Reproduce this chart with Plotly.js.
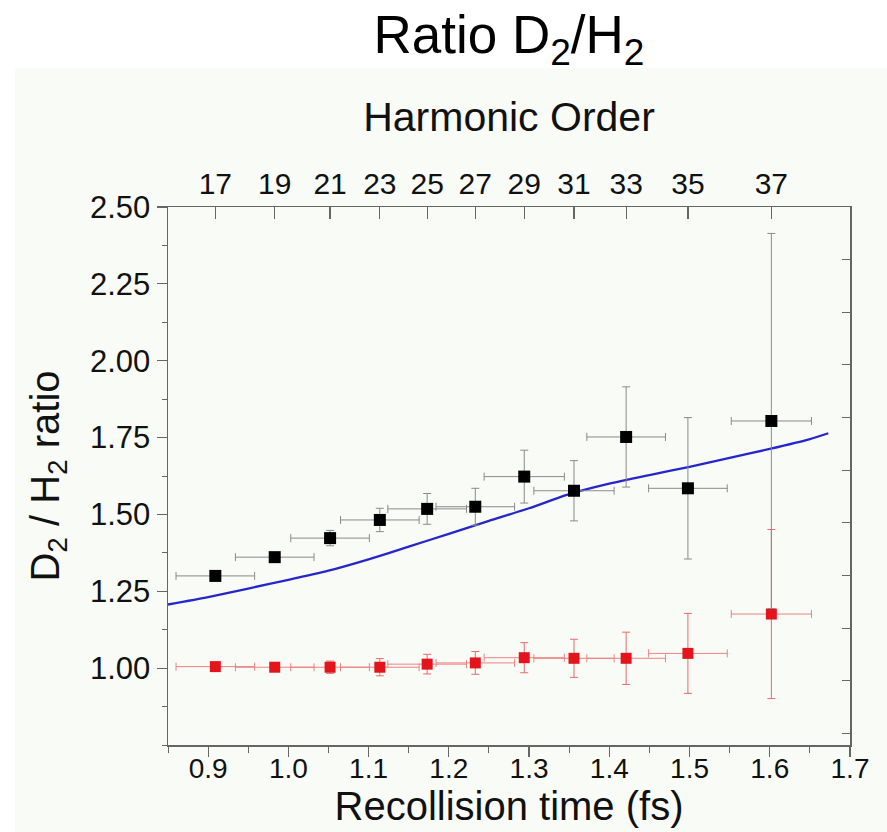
<!DOCTYPE html>
<html>
<head>
<meta charset="utf-8">
<script src="https://cdn.plot.ly/plotly-3.0.1.min.js"></script>
<style>html,body{margin:0;padding:0;background:#fff;}#chart{width:887px;height:832px;}</style>
</head>
<body>
<div id="chart"></div>
<script>
// Harmonic order (top axis) and corresponding recollision times (fs)
const harmonicOrders = [17, 19, 21, 23, 25, 27, 29, 31, 33, 35, 37];
const recollisionTime = [0.909, 0.983, 1.052, 1.114, 1.173, 1.233, 1.294, 1.356, 1.421, 1.498, 1.602];
const timeErr = [0.049, 0.049, 0.049, 0.049, 0.049, 0.049, 0.05, 0.05, 0.049, 0.049, 0.05];

// Measured D2/H2 ratio (black) with errors
const ratioBlack = [1.300, 1.361, 1.423, 1.482, 1.518, 1.525, 1.623, 1.577, 1.752, 1.585, 1.804];
const ratioBlackErr = [0.012, 0.015, 0.025, 0.038, 0.05, 0.06, 0.086, 0.098, 0.163, 0.23, 0.61];

// Reference ratio (red) with errors
const ratioRed = [1.005, 1.003, 1.003, 1.003, 1.013, 1.017, 1.034, 1.032, 1.032, 1.048, 1.176];
const ratioRedErr = [0.012, 0.012, 0.02, 0.028, 0.032, 0.037, 0.049, 0.062, 0.085, 0.13, 0.275];

// Theory curve (blue)
const theoryTime = [0.85, 0.90, 0.95, 1.00, 1.05, 1.10, 1.15, 1.20, 1.25, 1.30, 1.35, 1.40, 1.45, 1.50, 1.55, 1.60, 1.65, 1.673];
const theoryRatio = [1.207, 1.231, 1.259, 1.287, 1.317, 1.354, 1.395, 1.437, 1.479, 1.520, 1.566, 1.600, 1.628, 1.655, 1.684, 1.713, 1.745, 1.764];

// Left-axis labelled ticks
const yTickVals = [1.00, 1.25, 1.50, 1.75, 2.00, 2.25, 2.50];

const FONT = 'Liberation Sans, Arial, sans-serif';
const AXC = '#666666';

const traces = [
  {
    x: theoryTime, y: theoryRatio, type: 'scatter', mode: 'lines',
    line: {color: '#2626cc', width: 2.3, shape: 'spline', smoothing: 0.6}, hoverinfo: 'skip', showlegend: false
  },
  {
    x: recollisionTime, y: ratioRed, type: 'scatter', mode: 'markers',
    marker: {symbol: 'square', size: 11, color: '#e4141c'},
    error_x: {type: 'data', array: timeErr, visible: true, color: '#ee8080', thickness: 1, width: 4},
    error_y: {type: 'data', array: ratioRedErr, visible: true, color: '#e86a6a', thickness: 1, width: 4},
    showlegend: false
  },
  {
    x: recollisionTime, y: ratioBlack, type: 'scatter', mode: 'markers',
    marker: {symbol: 'square', size: 12, color: '#000000'},
    error_x: {type: 'data', array: timeErr, visible: true, color: '#8a8a8a', thickness: 1, width: 4},
    error_y: {type: 'data', array: ratioBlackErr, visible: true, color: '#8a8a8a', thickness: 1, width: 4},
    showlegend: false
  },
  {x: [0.85], y: [null], xaxis: 'x2', yaxis: 'y', type: 'scatter', mode: 'markers', showlegend: false, hoverinfo: 'skip'},
  {x: [0.85], y: [null], xaxis: 'x', yaxis: 'y2', type: 'scatter', mode: 'markers', showlegend: false, hoverinfo: 'skip'}
];

const layout = {
  width: 887, height: 832,
  margin: {l: 168, r: 37, t: 207, b: 87},
  paper_bgcolor: '#ffffff',
  plot_bgcolor: '#fbfdf8',
  font: {family: FONT, color: '#111'},
  title: {
    text: 'Ratio D<sub>2</sub>/H<sub>2</sub>',
    font: {family: FONT, size: 53, color: '#000'},
    xref: 'paper', x: 0.5, xanchor: 'center',
    yref: 'container', y: 0.958, yanchor: 'middle'
  },
  xaxis: {
    range: [0.85, 1.7], dtick: 0.1, tick0: 0.9, tickformat: '.1f',
    showgrid: false, zeroline: false,
    showline: true, linecolor: AXC, linewidth: 1.5,
    ticks: 'outside', ticklen: 10, tickwidth: 1.2, tickcolor: AXC,
    minor: {ticks: 'outside', ticklen: 6, dtick: 0.05, tickcolor: AXC, tickwidth: 1},
    tickfont: {size: 28, color: '#111'}, ticklabelstandoff: -12,
    title: {text: 'Recollision time (fs)', font: {size: 40, color: '#111'}, standoff: 6}
  },
  xaxis2: {
    overlaying: 'x', side: 'top', range: [0.85, 1.7],
    tickmode: 'array', tickvals: recollisionTime, ticktext: harmonicOrders.map(String),
    showgrid: false, zeroline: false, showline: true, linecolor: AXC, linewidth: 1.5,
    ticks: 'inside', ticklen: 12, tickwidth: 1.2, tickcolor: AXC,
    tickfont: {size: 30, color: '#111'},
    title: {text: 'Harmonic Order', font: {size: 41, color: '#111'}, standoff: 22}
  },
  yaxis: {
    range: [0.75, 2.5], tickmode: 'array', tickvals: yTickVals, tickformat: '.2f',
    showgrid: false, zeroline: false,
    showline: true, linecolor: AXC, linewidth: 1.5,
    ticks: 'outside', ticklen: 10, tickwidth: 1.2, tickcolor: AXC,
    minor: {ticks: 'outside', ticklen: 5, dtick: 0.125, tick0: 0.75, tickcolor: AXC, tickwidth: 1},
    tickfont: {size: 31, color: '#111'},
    title: {text: 'D<sub>2</sub> / H<sub>2</sub> ratio', font: {size: 40, color: '#111'}, standoff: 18}
  },
  yaxis2: {
    overlaying: 'y', side: 'right', range: [-1.22, 9.0], dtick: 1, tick0: 0,
    showgrid: false, zeroline: false, showline: true, linecolor: AXC, linewidth: 1.5,
    ticks: 'inside', ticklen: 8, tickwidth: 1, tickcolor: AXC, showticklabels: false
  },
  shapes: [
    {type: 'rect', xref: 'paper', yref: 'paper', x0: -0.2243, x1: 1.06, y0: -0.17, y1: 1.258,
     fillcolor: '#f9fcf6', line: {width: 0}, layer: 'below'}
  ]
};

Plotly.newPlot('chart', traces, layout, {displayModeBar: false, staticPlot: true});
</script>
</body>
</html>
